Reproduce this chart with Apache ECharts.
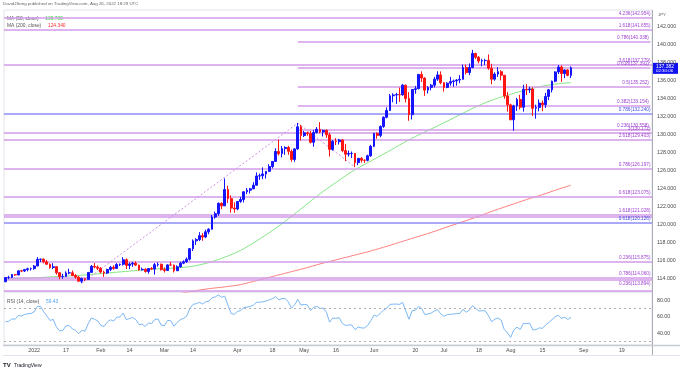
<!DOCTYPE html>
<html><head><meta charset="utf-8">
<script src="https://cdn.jsdelivr.net/npm/echarts@6/dist/echarts.min.js"></script>
<style>html,body{margin:0;padding:0;background:#fff}#c{width:680px;height:368px}</style>
</head><body><div id="c"></div>
<script>
// ---- trading days (categories) ----
const dec2021 = [21,22,23,24,27,28,29,30,31];
const jan = [3,4,5,6,7,10,11,12,13,14,17,18,19,20,21,24,25,26,27,28,31];
const feb = [1,2,3,4,7,8,9,10,11,14,15,16,17,18,21,22,23,24,25,28];
const mar = [1,2,3,4,7,8,9,10,11,14,15,16,17,18,21,22,23,24,25,28,29,30,31];
const apr = [1,4,5,6,7,8,11,12,13,14,15,18,19,20,21,22,25,26,27,28,29];
const may = [2,3,4,5,6,9,10,11,12,13,16,17,18,19,20,23,24,25,26,27,30,31];
const jun = [1,2,3,6,7,8,9,10,13,14,15,16,17,20,21,22,23,24,27,28,29,30];
const jul = [1,4,5,6,7,8,11,12,13,14,15,18,19,20,21,22,25,26,27,28,29];
const aug = [1,2,3,4,5,8,9,10,11,12,15,16,17,18,19,22,23,24,25,26,29,30,31];
const sep = [1,2,5,6,7,8,9,12,13,14,15,16,19,20,21,22,23,26,27,28,29,30];

// ---- OHLC (USD/JPY daily) ----
const opens = [
113.62,114.09,114.10,114.42,114.38,114.83,114.81,114.97,115.07,
115.08,115.37,116.11,116.13,115.83,115.56,115.20,115.29,114.62,114.19,114.20,114.60,114.61,114.31,114.13,113.68,113.98,113.88,114.66,115.34,115.25,
115.12,114.69,114.58,114.98,115.22,115.10,115.53,115.56,116.06,115.43,115.58,115.68,115.47,114.95,115.00,114.76,115.09,115.03,115.52,115.56,
114.96,114.88,115.49,115.47,114.84,115.29,115.68,115.85,116.13,117.29,118.16,118.30,118.74,118.59,119.16,119.46,120.81,121.18,122.33,122.05,123.86,122.85,121.80,
121.70,122.54,122.75,123.61,123.79,123.95,124.35,125.37,125.39,125.60,125.89,126.42,126.98,128.09,127.86,128.41,128.53,128.11,127.21,128.38,130.83,
129.86,130.16,130.08,129.11,130.20,130.56,130.26,130.44,129.94,128.32,129.22,129.18,129.37,128.19,127.79,127.87,127.88,126.85,127.33,127.12,127.11,127.61,
128.67,130.11,129.88,130.87,131.89,132.65,134.28,134.37,134.41,134.39,135.46,133.98,132.18,134.98,135.07,136.65,136.25,134.91,135.21,135.46,136.13,136.60,
135.73,135.21,135.68,135.86,135.93,136.03,136.11,137.43,136.86,137.43,138.98,138.56,138.14,138.19,138.20,137.35,136.13,136.69,136.95,136.56,134.26,
133.27,131.61,133.16,133.88,133.01,135.01,134.95,135.03,132.89,132.99,133.47,133.29,134.21,134.94,135.90,136.93,137.48,136.75,137.15,136.55];
const highs = [
114.15,114.28,114.47,114.46,114.88,114.94,115.05,115.18,115.20,
115.48,116.35,116.18,116.21,116.05,115.65,115.68,115.35,114.68,114.50,114.78,115.06,114.87,114.47,114.25,114.09,114.05,114.69,115.48,115.69,115.43,
115.25,114.85,115.07,115.38,115.45,115.69,115.64,116.34,116.21,115.77,115.83,115.88,115.51,115.19,115.13,115.12,115.25,115.70,115.77,115.64,
115.21,115.56,115.80,115.53,115.45,115.84,116.00,116.32,117.36,118.33,118.45,119.13,119.03,119.40,119.56,121.04,121.41,122.43,122.44,125.10,124.29,123.22,122.44,
122.57,123.05,123.67,124.04,124.05,124.68,125.77,125.63,126.32,125.92,126.68,127.04,128.45,129.41,128.69,128.67,128.71,128.31,128.45,131.25,131.05,
130.37,130.29,130.38,130.46,130.80,131.35,130.52,130.54,130.17,129.37,129.58,129.48,129.46,128.94,128.20,128.09,127.92,127.36,127.46,127.20,127.74,128.83,
130.15,130.22,130.99,131.99,133.00,134.48,134.56,134.61,135.19,135.60,135.51,134.68,135.00,135.38,136.71,136.99,136.34,135.35,135.60,136.38,137.00,136.99,
135.78,135.78,136.38,136.08,136.13,136.57,137.75,137.75,137.87,139.38,139.07,138.70,138.39,138.39,138.88,137.83,136.89,137.46,137.12,136.58,134.71,
133.40,133.28,134.05,134.38,135.50,135.58,135.29,135.22,133.29,133.87,133.76,134.60,135.04,135.96,137.00,137.70,137.66,137.22,137.24,137.55];
const lows = [
113.58,113.90,114.03,114.28,114.33,114.69,114.70,114.78,114.86,
114.94,115.35,115.80,115.66,115.52,115.06,115.02,114.41,113.89,113.96,114.17,114.45,114.24,113.98,113.62,113.47,113.69,113.85,114.63,115.12,114.93,
114.55,114.16,114.48,114.80,114.95,115.07,115.37,115.41,115.02,115.02,115.28,115.36,114.86,114.86,114.63,114.52,114.92,114.41,115.30,114.87,
114.65,114.82,115.38,114.65,114.84,115.17,115.57,115.71,115.97,117.03,117.70,118.13,118.17,118.45,118.90,119.41,120.62,120.94,121.68,122.04,122.37,121.29,121.28,
121.56,122.39,122.43,123.35,123.43,123.90,124.29,124.94,125.01,125.08,125.82,126.21,126.95,127.65,127.43,127.72,127.72,126.95,126.95,128.29,129.31,
129.70,129.84,128.99,128.62,130.08,130.12,129.76,129.61,127.52,128.18,128.80,128.87,128.01,127.03,127.53,127.36,126.36,126.57,126.87,126.82,126.99,127.49,
128.57,129.51,129.68,130.71,131.77,132.62,133.56,133.38,133.60,134.28,133.53,131.50,131.65,134.51,135.00,135.81,134.27,134.53,134.89,135.20,135.93,135.56,
134.75,135.12,135.40,135.27,135.40,135.67,136.09,136.66,136.57,137.33,138.37,137.88,137.56,137.68,137.16,135.57,135.95,136.37,135.99,133.95,132.51,
131.58,130.39,132.59,132.76,132.52,134.36,134.60,132.04,131.73,132.55,132.56,132.92,133.80,134.65,135.79,136.70,135.82,136.24,136.44,136.25];
const closes = [
114.09,114.10,114.42,114.38,114.83,114.81,114.97,115.07,115.08,
115.37,116.11,116.13,115.83,115.56,115.20,115.29,114.62,114.19,114.20,114.60,114.61,114.31,114.13,113.68,113.98,113.88,114.66,115.34,115.25,115.12,
114.69,114.58,114.98,115.22,115.10,115.53,115.56,116.06,115.43,115.58,115.68,115.47,114.95,115.00,114.76,115.09,115.03,115.52,115.56,114.96,
114.88,115.49,115.47,114.84,115.29,115.68,115.85,116.13,117.29,118.16,118.30,118.74,118.59,119.16,119.46,120.81,121.18,122.33,122.05,123.86,122.85,121.80,121.70,
122.54,122.75,123.61,123.79,123.95,124.35,125.37,125.39,125.60,125.89,126.42,126.98,128.09,127.86,128.41,128.53,128.11,127.21,128.38,130.83,129.86,
130.16,130.08,129.11,130.20,130.56,130.26,130.44,129.94,128.32,129.22,129.18,129.37,128.19,127.79,127.87,127.88,126.85,127.33,127.12,127.11,127.61,128.67,
130.11,129.88,130.87,131.89,132.65,134.28,134.37,134.41,134.39,135.46,133.98,132.18,134.98,135.07,136.65,136.25,134.91,135.21,135.46,136.13,136.60,135.73,
135.21,135.68,135.86,135.93,136.03,136.11,137.43,136.86,137.43,138.98,138.56,138.14,138.19,138.20,137.35,136.13,136.69,136.95,136.56,134.26,133.27,
131.61,133.16,133.88,133.01,135.01,134.95,135.03,132.89,132.99,133.47,133.29,134.21,134.94,135.90,136.93,137.48,136.75,137.15,136.55,137.382];

// ---- moving averages at weekly points ----
const ma50Dates = ['2021-12-21','2022-01-03','2022-01-10','2022-01-17','2022-01-24','2022-01-31','2022-02-07','2022-02-14','2022-02-21','2022-02-28','2022-03-07','2022-03-14','2022-03-21','2022-03-28','2022-04-04','2022-04-11','2022-04-18','2022-04-25','2022-05-02','2022-05-09','2022-05-16','2022-05-23','2022-05-30','2022-06-06','2022-06-13','2022-06-20','2022-06-27','2022-07-04','2022-07-11','2022-07-18','2022-07-25','2022-08-01','2022-08-08','2022-08-15','2022-08-22','2022-08-26'];
const ma50Values = [113.90,114.05,114.15,114.25,114.35,114.50,114.65,114.80,114.95,115.08,115.15,115.35,115.75,116.35,117.10,118.15,119.30,120.60,122.00,123.40,124.65,125.85,126.85,127.80,128.80,129.75,130.60,131.45,132.35,133.20,133.90,134.45,134.95,135.35,135.62,135.739];
const ma200Dates = ['2022-03-07','2022-03-14','2022-03-21','2022-03-28','2022-04-04','2022-04-11','2022-04-18','2022-04-25','2022-05-02','2022-05-09','2022-05-16','2022-05-23','2022-05-30','2022-06-06','2022-06-13','2022-06-20','2022-06-27','2022-07-04','2022-07-11','2022-07-18','2022-07-25','2022-08-01','2022-08-08','2022-08-15','2022-08-22','2022-08-26'];
const ma200Values = [112.25,112.58,112.85,113.05,113.30,113.75,114.20,114.65,115.10,115.60,116.05,116.50,116.95,117.45,118.00,118.55,119.10,119.70,120.30,120.90,121.55,122.15,122.75,123.30,123.90,124.34];

// ---- RSI (14) ----
const rsiDec = [54,54.5,57.5,57,61.5,61,62.8,63.8,63.9];
const rsiJan = [66,72.5,72.6,66,61,55.5,56.8,47.5,43,43.3,49,49.2,45.5,43.5,39.5,43.5,42.5,51.5,58.5,57,55];
const rsiFeb = [49.5,48.3,53.5,56.3,54.8,59.5,59.8,64.5,56.5,58,59,56.5,50.5,51,48.3,52.5,51.8,56.8,57.2,50];
const rsiMar = [49.2,55.5,55.3,48.5,53,56.5,58,60.8,70,75,75.8,77.5,75.5,78,79,83,84,86.5,83.5,85,74,64,63];
const rsiApr = [66.5,67.5,71,71.8,72.5,74,77.5,77.6,78.2,79,80.5,82,84.5,80.5,82,82.3,78,70.5,74.5,81,74];
const rsiMay = [75,74.3,67.5,71.5,72.5,70,70.5,65.5,53.5,58.5,58,59,52,49.5,50,50.1,44.5,47.5,46.5,46.4,49.5,55.5];
const rsiJun = [62,60.5,64.5,68,70.5,75,75.3,75.4,75,77.5,67,57,67.5,67.8,72.5,70,62.5,63.5,64.5,67,68.5,63.5];
const rsiJul = [60.5,62.5,63,63.3,63.8,64,69,65.5,68,73.5,70,67,67.3,67.3,61.5,54,57,58.5,56,44.5,40.5];
const rsiAug = [35,44,47.5,44.5,52,51.8,52.1,44,44.5,46.5,46,50,53,56.5,60,61.8,58,59.5,56.8,59.43];

// ---- Fibonacci levels ----
const fullRatios = ['4.236','1.618','3.618','1','2.618','0.786','0.618','1.618','0.5','0.236','0.786','0.236','0.618'];
const fullPrices = [142.954,141.655,137.779,130.172,129.403,126.197,123.075,121.028,120.880,115.875,114.060,113.894,112.653];
const blueRatios = ['0.786','0.618'];
const bluePrices = [132.240,120.126];
const extRatios = ['0.786','0.618','0.5','0.382','0.236'];
const extPrices = [140.338,137.391,135.252,133.154,130.558];
const extAnchorDates = ['2022-01-24','2022-04-28','2022-05-24'];
const hiddenLabelPrices = [120.880,112.653];
const belowLabelPrices = [113.894];

// ---- axis ticks ----
const xTickDates = ['2022-01-03','2022-01-17','2022-02-01','2022-02-14','2022-03-01','2022-03-14','2022-04-01','2022-04-18','2022-05-02','2022-05-16','2022-06-01','2022-06-20','2022-07-01','2022-07-18','2022-08-01','2022-08-15','2022-09-01','2022-09-19'];
const xTickLabels = ['2022','17','Feb','14','Mar','14','Apr','18','May','16','Jun','20','Jul','18','Aug','15','Sep','19'];
const priceTicks = [114,116,118,120,122,124,126,128,130,132,134,136,138,140,142];
const rsiTicks = [40,60,80];
const rsiBands = [70,30];

// ---------- build ----------
const pad = n => (n < 10 ? '0' : '') + n;
const dates = [];
[[2021,12,dec2021],[2022,1,jan],[2022,2,feb],[2022,3,mar],[2022,4,apr],[2022,5,may],[2022,6,jun],[2022,7,jul],[2022,8,aug],[2022,9,sep]]
  .forEach(([y,m,ds]) => ds.forEach(d => dates.push(y + '-' + pad(m) + '-' + pad(d))));
const candles = opens.map((o,i) => [o, closes[i], lows[i], highs[i]]);
const rsi = [].concat(rsiDec,rsiJan,rsiFeb,rsiMar,rsiApr,rsiMay,rsiJun,rsiJul,rsiAug);
const ma50 = ma50Dates.map((d,i) => [dates.indexOf(d), ma50Values[i]]);
const ma200 = ma200Dates.map((d,i) => [dates.indexOf(d), ma200Values[i]]);
const lastIdx = dates.length - 1;

const FONT = 'Liberation Sans, Arial, sans-serif';
const PURPLE_LINE = '#d39be8', PURPLE_TXT = '#9c3fd0', BLUE_LINE = '#8c8cf5', BLUE_TXT = '#3f4fe0';
const lblStyle = (c, p) => ({show: hiddenLabelPrices.indexOf(p) < 0,
  position: belowLabelPrices.indexOf(p) >= 0 ? 'insideEndBottom' : 'insideEndTop',
  distance:[1.5,1.5], fontSize:4.7, color:c, fontFamily:FONT});
const fibData = [];
fullPrices.forEach((p,i) => fibData.push({yAxis:p, lineStyle:{color:PURPLE_LINE,width:1.5,type:'solid'},
  label:Object.assign(lblStyle(PURPLE_TXT,p),{formatter: fullRatios[i] + '(' + p.toFixed(3) + ')'})}));
bluePrices.forEach((p,i) => fibData.push({yAxis:p, lineStyle:{color:BLUE_LINE,width:1.5,type:'solid'},
  label:Object.assign(lblStyle(BLUE_TXT,p),{formatter: blueRatios[i] + '(' + p.toFixed(3) + ')'})}));
const bIdx = dates.indexOf(extAnchorDates[1]);
extPrices.forEach((p,i) => fibData.push([
  {coord:[bIdx, p], lineStyle:{color:PURPLE_LINE,width:1.5,type:'solid'},
   label:Object.assign(lblStyle(PURPLE_TXT,p),{formatter: extRatios[i] + '(' + p.toFixed(3) + ')'})},
  {coord:[lastIdx, p]}]));
// trend-based extension anchors: swing low, swing high, swing low
const aI = dates.indexOf(extAnchorDates[0]), cI = dates.indexOf(extAnchorDates[2]);
const dashStyle = {color:'#cf8fe6', width:1, type:[2,2]};
fibData.push([{coord:[aI, lows[aI]], lineStyle:dashStyle, label:{show:false}}, {coord:[bIdx, highs[bIdx]]}]);
fibData.push([{coord:[bIdx, highs[bIdx]], lineStyle:dashStyle, label:{show:false}}, {coord:[cI, lows[cI]]}]);

const chart = echarts.init(document.getElementById('c'), null, {renderer:'canvas', width:680, height:368});
const option = {
  animation:false,
  backgroundColor:'#ffffff',
  textStyle:{fontFamily:FONT},
  grid:[
    {left:4, top:10, width:648, height:282, show:true, borderColor:'#e0e3eb', borderWidth:1},
    {left:4, top:292, width:648, height:53, show:true, borderColor:'#e0e3eb', borderWidth:1}
  ],
  xAxis:[
    {type:'category', gridIndex:0, data:dates, boundaryGap:true, axisLine:{show:false}, axisTick:{show:false}, axisLabel:{show:false}, splitLine:{show:false}},
    {type:'category', gridIndex:1, data:dates, boundaryGap:true, axisLine:{show:false}, axisTick:{show:false}, splitLine:{show:false},
      axisLabel:{interval:(i,v) => xTickDates.indexOf(v) >= 0, formatter:(v) => xTickLabels[xTickDates.indexOf(v)], fontSize:5.3, color:'#4a4a4a', margin:3, fontFamily:FONT}}
  ],
  yAxis:[
    {type:'value', gridIndex:0, position:'right', min:112.48, max:143.81, axisLine:{show:false}, axisTick:{show:false}, splitLine:{show:false},
      axisLabel:{customValues:priceTicks, formatter:(v) => v.toFixed(3), fontSize:5.3, color:'#4a4a4a', margin:5, fontFamily:FONT}},
    {type:'value', gridIndex:1, position:'right', min:25.8, max:90, axisLine:{show:false}, axisTick:{show:false}, splitLine:{show:false},
      axisLabel:{customValues:rsiTicks, formatter:(v) => v.toFixed(2), fontSize:5.3, color:'#4a4a4a', margin:5, fontFamily:FONT}}
  ],
  series:[
    {type:'line', xAxisIndex:0, yAxisIndex:0, data:[], silent:true,
      markLine:{silent:true, symbol:['none','none'], animation:false, data:fibData}},
    {type:'line', name:'MA200', xAxisIndex:0, yAxisIndex:0, data:ma200, showSymbol:false, smooth:0.3,
      lineStyle:{color:'#ff8080', width:1}, z:3},
    {type:'line', name:'MA50', xAxisIndex:0, yAxisIndex:0, data:ma50, showSymbol:false, smooth:0.3,
      lineStyle:{color:'#85e685', width:1}, z:3},
    {type:'candlestick', xAxisIndex:0, yAxisIndex:0, data:candles, barWidth:2.3, z:5,
      itemStyle:{color:'#1414ff', color0:'#ff1414', borderColor:'#1414ff', borderColor0:'#ff1414', borderWidth:1}},
    {type:'line', name:'RSI', xAxisIndex:1, yAxisIndex:1, data:rsi, showSymbol:false,
      lineStyle:{color:'#7ab8f5', width:1},
      markLine:{silent:true, symbol:['none','none'], label:{show:false},
        lineStyle:{color:'#b0b0b0', width:1, type:[2,3]}, data:rsiBands.map(v => ({yAxis:v}))}}
  ]
};
chart.setOption(option);

const lastClose = closes[closes.length-1];
const py = chart.convertToPixel({yAxisIndex:0}, lastClose);
const small = (sz, fill, extra) => Object.assign({fontSize:sz, fill:fill, fontFamily:FONT}, extra || {});
chart.setOption({graphic:[
  {type:'text', left:3, top:1.5, style:small(4.4,'#666',{text:'DavidJSong published on TradingView.com, Aug 26, 2022 18:29 UTC'})},
  {type:'text', left:7, top:12.5, style:{rich:{a:small(4.9,'#555'), b:small(4.9,'#2fd02f')},
     text:'{a|MA (50, close)}  {b|' + ma50Values[ma50Values.length-1].toFixed(3) + '}'}},
  {type:'text', left:7, top:19.5, style:{rich:{a:small(4.9,'#555'), b:small(4.9,'#f03030')},
     text:'{a|MA (200, close)}  {b|' + ma200Values[ma200Values.length-1].toFixed(3) + '}'}},
  {type:'text', left:7, top:295.5, style:{rich:{a:small(4.9,'#555'), b:small(4.9,'#4ea3f0')},
     text:'{a|RSI (14, close)}  {b|' + rsi[rsi.length-1].toFixed(2) + '}'}},
  {type:'text', left:658, top:13, style:small(4.4,'#666',{text:'JPY'})},
  {type:'line', shape:{x1:652.5, y1:10, x2:652.5, y2:356}, style:{stroke:'#a9acb5', lineWidth:1}},
  {type:'line', shape:{x1:3, y1:345.5, x2:680, y2:345.5}, style:{stroke:'#c8cbd2', lineWidth:1.5}},
  {type:'line', shape:{x1:3, y1:355.5, x2:680, y2:355.5}, style:{stroke:'#e0e3eb', lineWidth:1}},
  {type:'rect', shape:{x:653, y:py-5, width:25, height:11}, style:{fill:'#1010f0'}},
  {type:'text', left:656, top:py-4.2, style:small(5,'#fff',{text:lastClose.toFixed(3)})},
  {type:'text', left:656, top:py+1, style:small(4.4,'#fff',{text:'02:30:06'})},
  {type:'text', left:3, top:359.5, style:{rich:{l:small(6,'#131722',{fontWeight:'bold'}), t:small(5,'#131722')}, text:'{l|TV} {t|TradingView}'}}
]});
</script></body></html>
